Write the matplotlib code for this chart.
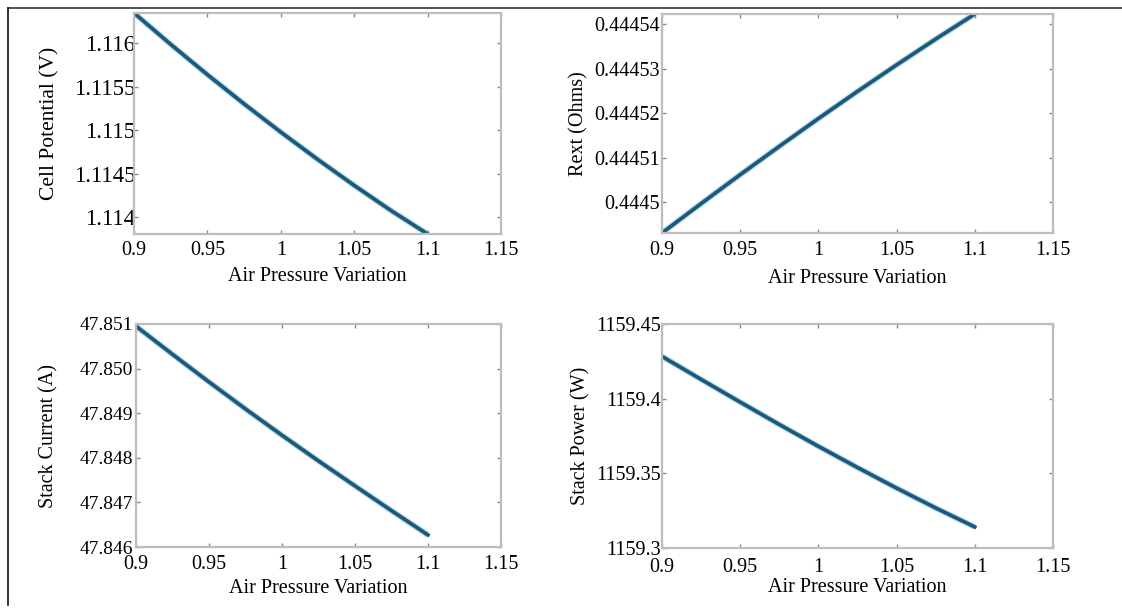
import matplotlib.pyplot as plt
from matplotlib.lines import Line2D

plt.rcParams['font.family'] = ['Liberation Serif', 'DejaVu Serif']

# data
pressure = [0.9, 0.925, 0.95, 0.975, 1.0, 1.025, 1.05, 1.075, 1.1]
cell_potential = [1.116346, 1.115986, 1.115638, 1.115302, 1.114978,
                  1.114666, 1.114366, 1.114078, 1.113808]
rext = [0.44449306, 0.44449966, 0.44450616, 0.44451251, 0.44451876,
        0.44452486, 0.44453081, 0.44453661, 0.44454224]
stack_current = [47.85095, 47.85032, 47.84970, 47.849095, 47.848505,
                 47.84793, 47.84737, 47.846815, 47.846269]
stack_power = [1159.4283, 1159.4129, 1159.3977, 1159.3827, 1159.3681,
               1159.3539, 1159.3401, 1159.3268, 1159.3141]

x_ticks = [0.9, 0.95, 1.0, 1.05, 1.1, 1.15]
x_ticklabels = ['0.9', '0.95', '1', '1.05', '1.1', '1.15']

W, H = 1122, 608
fig = plt.figure(figsize=(W / 100, H / 100), dpi=100)

# outer frame: only top and left edges visible
fig.add_artist(Line2D([8 / W, 1], [1 - 8 / H, 1 - 8 / H], color='#333333', lw=1.2, transform=fig.transFigure))
fig.add_artist(Line2D([8 / W, 8 / W], [1 - 8 / H, 1 - 605 / H], color='#111111', lw=1.2, transform=fig.transFigure))

def px_axes(left, right, top, bottom):
    return fig.add_axes([left / W, 1 - bottom / H, (right - left) / W, (bottom - top) / H])

panels = [
    # box, y data, ylim, yticks, yticklabels, ylabel, ylabel x, xlabel y, xpad, ypad, ytick size
    ((134, 501, 13, 234), cell_potential, (min(cell_potential), max(cell_potential)),
     [1.114, 1.1145, 1.115, 1.1155, 1.116], ['1.114', '1.1145', '1.115', '1.1155', '1.116'],
     'Cell Potential (V)', -0.204, -0.149, 5, -1, 16.5),
    ((662, 1053, 14, 233), rext, (min(rext), max(rext)),
     [0.4445, 0.44451, 0.44452, 0.44453, 0.44454], ['0.4445', '0.44451', '0.44452', '0.44453', '0.44454'],
     'Rext (Ohms)', -0.187, -0.164, 6, 1.5, 14.5),
    ((136, 501, 324, 547), stack_current, (47.846, 47.851),
     [47.846, 47.847, 47.848, 47.849, 47.850, 47.851], ['47.846', '47.847', '47.848', '47.849', '47.850', '47.851'],
     'Stack Current (A)', -0.213, -0.143, 6, 2, 14),
    ((662, 1053, 324, 548), stack_power, (1159.3, 1159.45),
     [1159.3, 1159.35, 1159.4, 1159.45], ['1159.3', '1159.35', '1159.4', '1159.45'],
     'Stack Power (W)', -0.182, -0.134, 7, 1, 14.5),
]

for box, yvals, ylim, yt, ytl, ylab, ylx, xly, xpad, ypad, ysize in panels:
    ax = px_axes(*box)
    ax.plot(pressure, yvals, color='#5fb0dc', lw=4.2, alpha=0.55, solid_capstyle='butt')
    ax.plot(pressure, yvals, color='#1d5878', lw=2.6)
    ax.set_xlim(0.9, 1.15)
    ax.set_ylim(*ylim)
    ax.set_xticks(x_ticks)
    ax.set_xticklabels(x_ticklabels, fontsize=14.5)
    ax.set_yticks(yt)
    ax.set_yticklabels(ytl, fontsize=ysize)
    for s in ax.spines.values():
        s.set_color('#bdbdbd')
        s.set_linewidth(1.6)
    ax.tick_params(direction='in', length=3, width=1, color='#888888',
                   top=True, right=True)
    ax.tick_params(axis='x', pad=xpad)
    ax.tick_params(axis='y', pad=ypad)
    ax.set_xlabel('Air Pressure Variation', fontsize=14.5)
    ax.xaxis.set_label_coords(0.5, xly)
    ax.set_ylabel(ylab, fontsize=15.5 if ysize > 15 else 14.5)
    ax.yaxis.set_label_coords(ylx, 0.5)

fig.savefig('out.png', dpi=100)
